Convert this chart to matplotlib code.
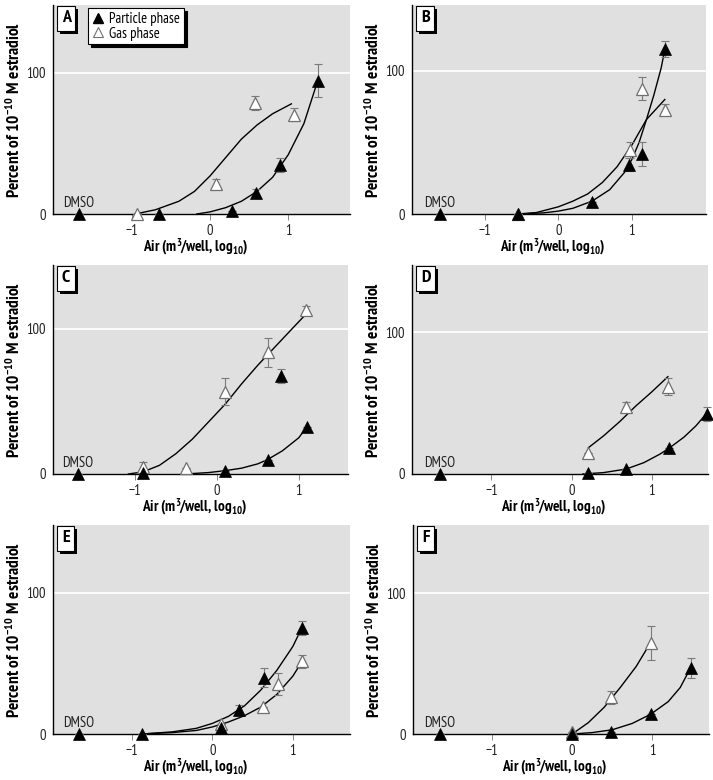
import matplotlib
matplotlib.use("Agg")
import matplotlib.pyplot as plt
import matplotlib.patheffects as pe
from matplotlib import font_manager as fm
from matplotlib.lines import Line2D

# pick a narrow sans face that has both a regular and a bold file
candidates = ['PT Sans Narrow', 'Fira Sans Condensed', 'IBM Plex Sans Condensed',
              'Asap Condensed', 'Barlow Condensed', 'Roboto Condensed',
              'Archivo Narrow', 'Liberation Sans']
font_name = 'DejaVu Sans'
for c in candidates:
    w = [f.weight for f in fm.fontManager.ttflist if f.name == c]
    ws = [int(x) if str(x).isdigit() else (700 if x == 'bold' else 400) for x in w]
    if any(x >= 700 for x in ws) and any(x <= 500 for x in ws):
        font_name = c
        break

plt.rcParams['font.family'] = [font_name, 'DejaVu Sans']
plt.rcParams['mathtext.fontset'] = 'custom'
plt.rcParams['mathtext.rm'] = font_name
plt.rcParams['mathtext.bf'] = font_name + ':bold'
plt.rcParams['mathtext.it'] = font_name + ':italic'

# ---- data (log10 m3/well, percent of 1e-10 M estradiol) ----
# panel A
a_part_x = [-1.68, -0.65, 0.285, 0.59, 0.896, 1.375]
a_part_y = [0, 0, 2.4, 14.7, 34.8, 94.5]
a_part_err = [0, 0, 0, 3, 5, 12]
a_gas_x = [-0.94, 0.07, 0.58, 1.07]
a_gas_y = [0, 21, 78.7, 70.4]
a_gas_err = [0, 3.5, 5, 4.5]
a_part_fit_x = [-0.17, 0, 0.2, 0.4, 0.6, 0.8, 1.0, 1.2, 1.375]
a_part_fit_y = [0, 1.5, 4.5, 9, 16, 26, 42, 64, 94]
a_gas_fit_x = [-0.96, -0.7, -0.4, -0.2, 0, 0.2, 0.4, 0.6, 0.8, 1.04]
a_gas_fit_y = [0, 3, 9, 16, 27, 40, 53, 63, 71, 78]

# panel B
b_part_x = [-1.61, -0.55, 0.456, 0.96, 1.145, 1.45]
b_part_y = [0, 0, 8.6, 34.3, 42, 115.4]
b_part_err = [0, 0, 0, 4.5, 8.5, 5.5]
b_gas_x = [-0.55, 0.97, 1.14, 1.45]
b_gas_y = [0, 44.9, 87.4, 72.9]
b_gas_err = [0, 5.5, 8, 4]
b_part_fit_x = [-0.55, -0.2, 0, 0.2, 0.46, 0.7, 0.9, 1.0, 1.1, 1.2, 1.3, 1.4, 1.45]
b_part_fit_y = [0, 0.8, 2, 4, 9, 17, 29, 38, 50, 66, 83, 102, 115]
b_gas_fit_x = [-0.55, -0.3, 0, 0.2, 0.4, 0.6, 0.8, 1.0, 1.2, 1.45]
b_gas_fit_y = [0, 1, 5, 9, 14, 22, 33, 48, 66, 80]

# panel C
c_part_x = [-1.69, -0.90, 0.10, 0.62, 0.78, 1.105]
c_part_y = [0, 1, 2.3, 9.7, 67.6, 32.6]
c_part_err = [0, 0, 0, 0, 5, 0]
c_gas_x = [-0.90, -0.38, 0.10, 0.62, 1.085]
c_gas_y = [4.6, 3.9, 56.8, 83.9, 113]
c_gas_err = [4, 0, 9, 10, 3]
c_part_fit_x = [-0.39, -0.1, 0.1, 0.3, 0.5, 0.62, 0.8, 1.0, 1.105]
c_part_fit_y = [0, 1, 2.3, 4, 7, 10, 16, 25, 33]
c_gas_fit_x = [-1.08, -0.9, -0.7, -0.5, -0.3, -0.1, 0.1, 0.3, 0.5, 0.7, 0.9, 1.085]
c_gas_fit_y = [0, 1.5, 6, 14, 24, 36, 48, 62, 75, 87, 99, 110]

# panel D
d_part_x = [-1.64, 0.21, 0.68, 1.21, 1.69]
d_part_y = [0, 1, 3.3, 18, 42.4]
d_part_err = [0, 0, 0, 0, 5]
d_gas_x = [0.21, 0.68, 1.20]
d_gas_y = [14.6, 47.5, 61.6]
d_gas_err = [0, 3, 6]
d_part_fit_x = [0.14, 0.4, 0.68, 0.9, 1.1, 1.21, 1.4, 1.55, 1.70]
d_part_fit_y = [0, 1, 3.5, 8, 14, 18, 26, 34, 44]
d_gas_fit_x = [0.21, 0.4, 0.6, 0.8, 1.0, 1.2]
d_gas_fit_y = [18.6, 27, 37, 48, 58, 68.7]

# panel E
e_part_x = [-1.66, -0.88, 0.11, 0.33, 0.64, 1.11]
e_part_y = [0, 0, 4, 17, 40, 75.1]
e_part_err = [0, 0, 0, 3.5, 6.5, 5]
e_gas_x = [0.11, 0.63, 0.82, 1.11]
e_gas_y = [7.4, 19.4, 35.5, 51.4]
e_gas_err = [0, 0, 8, 4.5]
e_part_fit_x = [-0.88, -0.5, -0.2, 0, 0.2, 0.4, 0.6, 0.8, 1.0, 1.11]
e_part_fit_y = [0, 1.5, 4, 7.5, 12.5, 20, 31, 45, 62, 75]
e_gas_fit_x = [-0.88, -0.5, -0.2, 0, 0.2, 0.4, 0.6, 0.8, 1.0, 1.11]
e_gas_fit_y = [0, 1, 2.5, 5, 8.5, 13, 19, 28, 41, 51]

# panel F
f_part_x = [-1.65, 0.0, 0.48, 0.98, 1.48]
f_part_y = [0, 0, 1.7, 14.2, 46.7]
f_part_err = [0, 0, 0, 0, 7]
f_gas_x = [0.0, 0.48, 0.99]
f_gas_y = [1.4, 26, 64.5]
f_gas_err = [0, 4.5, 12]
f_part_fit_x = [0, 0.25, 0.5, 0.75, 0.98, 1.2, 1.35, 1.48]
f_part_fit_y = [0, 1, 3, 7.5, 14, 23, 33, 47]
f_gas_fit_x = [0, 0.2, 0.4, 0.6, 0.8, 0.98]
f_gas_fit_y = [0, 8, 19, 33, 48, 65]

panels = {
    'A': (a_part_x, a_part_y, a_part_err, a_gas_x, a_gas_y, a_gas_err,
          a_part_fit_x, a_part_fit_y, a_gas_fit_x, a_gas_fit_y),
    'B': (b_part_x, b_part_y, b_part_err, b_gas_x, b_gas_y, b_gas_err,
          b_part_fit_x, b_part_fit_y, b_gas_fit_x, b_gas_fit_y),
    'C': (c_part_x, c_part_y, c_part_err, c_gas_x, c_gas_y, c_gas_err,
          c_part_fit_x, c_part_fit_y, c_gas_fit_x, c_gas_fit_y),
    'D': (d_part_x, d_part_y, d_part_err, d_gas_x, d_gas_y, d_gas_err,
          d_part_fit_x, d_part_fit_y, d_gas_fit_x, d_gas_fit_y),
    'E': (e_part_x, e_part_y, e_part_err, e_gas_x, e_gas_y, e_gas_err,
          e_part_fit_x, e_part_fit_y, e_gas_fit_x, e_gas_fit_y),
    'F': (f_part_x, f_part_y, f_part_err, f_gas_x, f_gas_y, f_gas_err,
          f_part_fit_x, f_part_fit_y, f_gas_fit_x, f_gas_fit_y),
}

# ---- layout (pixels in a 713x780 figure) ----
W, H = 713, 780
# left, right, top, bottom, xmin, xmax, ymax
layout = {
    'A': (53, 350, 5, 214, -2.01, 1.79, 148),
    'B': (412, 706, 5, 214, -1.99, 2.01, 146),
    'C': (53, 348, 265, 474, -2.0, 1.60, 144),
    'D': (412, 708, 265, 474, -1.99, 1.70, 147.5),
    'E': (53, 350, 525, 734, -1.98, 1.71, 148),
    'F': (413, 709, 525, 734, -1.99, 1.71, 148.5),
}

bg = '#e0e0e0'
errc = '#7a7a7a'
openc = '#707070'

fig = plt.figure(figsize=(W / 100, H / 100), dpi=100)

for key, (px, py, pe_, gx, gy, ge, pfx, pfy, gfx, gfy) in panels.items():
    l, r, t, b, x0, x1, ytop = layout[key]
    ax = fig.add_axes([l / W, 1 - b / H, (r - l) / W, (b - t) / H])
    ax.set_facecolor(bg)
    for s in ['top', 'right']:
        ax.spines[s].set_visible(False)
    for s in ['left', 'bottom']:
        ax.spines[s].set_linewidth(1.0)
        ax.spines[s].set_color('black')
    ax.set_xlim(x0, x1)
    ax.set_ylim(0, ytop)
    ax.axhline(100, color='white', lw=1.3, zorder=0.5)

    ax.plot(gfx, gfy, color='black', lw=1.0, zorder=2)
    ax.plot(pfx, pfy, color='black', lw=1.0, zorder=2)

    # error bars
    ax.errorbar(gx, gy, yerr=ge, fmt='none', ecolor=errc, elinewidth=0.8,
                capsize=3, capthick=0.8, zorder=3, clip_on=False)
    ax.errorbar(px, py, yerr=pe_, fmt='none', ecolor=errc, elinewidth=0.8,
                capsize=3, capthick=0.8, zorder=3, clip_on=False)

    ax.plot(gx, gy, linestyle='none', marker='^', ms=8, mfc='white',
            mec=openc, mew=0.9, zorder=4, clip_on=False)
    ax.plot(px, py, linestyle='none', marker='^', ms=8, mfc='black',
            mec='black', mew=0.5, zorder=5, clip_on=False)

    ax.annotate('DMSO', (px[0], 0), xytext=(-11.5, 5), textcoords='offset points',
                ha='left', va='baseline', fontsize=10.5, color='#222222')

    ax.set_xticks([-1, 0, 1])
    ax.set_xticklabels(['\u22121', '0', '1'])
    ax.set_yticks([0, 100])
    ax.tick_params(axis='x', length=4, width=0.7, color='#888888',
                   labelsize=10.5, pad=3, labelcolor='#222222')
    ax.tick_params(axis='y', length=0, labelsize=10.5, pad=5, labelcolor='#222222')

    ax.set_xlabel('Air (m$^{\\mathbf{3}}\\!$/well, log$_{\\mathbf{10}}$)',
                  fontsize=11, fontweight='bold')
    ax.xaxis.set_label_coords(0.48, -0.108)
    ax.set_ylabel('Percent of 10$^{\\mathbf{\u221210}}$ M estradiol',
                  fontsize=12.5, fontweight='bold')
    ax.yaxis.set_label_coords(-0.097, 0.5)

    lab = ax.text(0.03, 0.975, key, transform=ax.transAxes, ha='left', va='top',
                  fontsize=13, fontweight='bold', zorder=10,
                  bbox=dict(boxstyle='square,pad=0.25', fc='white', ec='black', lw=0.8))
    lab.get_bbox_patch().set_path_effects(
        [pe.withSimplePatchShadow(offset=(2.2, -2.2), shadow_rgbFace='black', alpha=1)])

    if key == 'A':
        handles = [
            Line2D([], [], linestyle='none', marker='^', ms=6.5, mfc='black', mec='black'),
            Line2D([], [], linestyle='none', marker='^', ms=6.5, mfc='white', mec=openc, mew=0.8),
        ]
        leg = ax.legend(handles, ['Particle phase', 'Gas phase'], loc='upper left',
                        bbox_to_anchor=(0.118, 0.985), fontsize=10.5, frameon=True,
                        fancybox=False, edgecolor='black', framealpha=1,
                        handlelength=0.8, handletextpad=0.4, borderpad=0.25,
                        labelspacing=0.05, borderaxespad=0,
                        shadow={'facecolor': 'black', 'edgecolor': 'black',
                                'alpha': 1, 'ox': 2.2, 'oy': -2.2})
        leg.get_frame().set_linewidth(0.8)
        leg.set_zorder(10)

fig.savefig('out.png', dpi=100, facecolor='white')
